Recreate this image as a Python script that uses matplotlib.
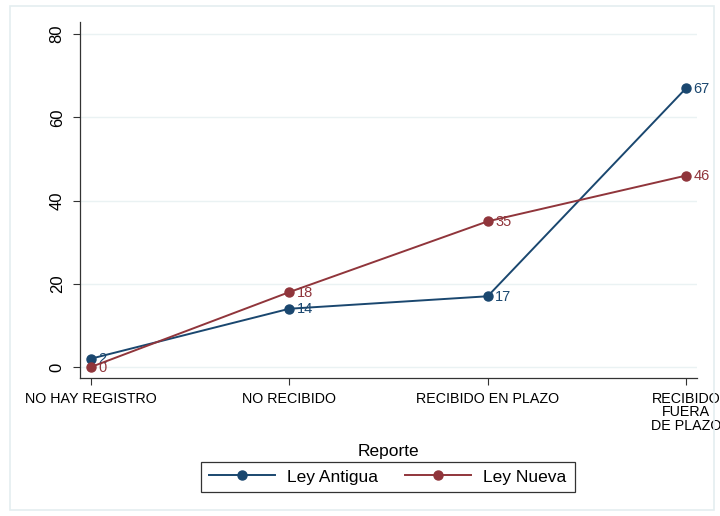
import numpy as np
import matplotlib
matplotlib.use("Agg")
import matplotlib.pyplot as plt
from matplotlib.patches import Rectangle

categories = ["NO HAY REGISTRO", "NO RECIBIDO", "RECIBIDO EN PLAZO",
              "RECIBIDO\nFUERA\nDE PLAZO"]
ley_antigua = [2, 14, 17, 67]
ley_nueva = [0, 18, 35, 46]
yticks = [0, 20, 40, 60, 80]

blue = "#1a476f"
red = "#90353b"
grid = "#eaf2f3"

plt.rcParams["font.family"] = ["Liberation Sans", "DejaVu Sans"]

fig = plt.figure(figsize=(7.2, 5.16), dpi=100)
fig.patches.append(Rectangle((10 / 720, 6 / 516), 704 / 720, 504 / 516,
                             transform=fig.transFigure, fill=False,
                             edgecolor="#e4eef0", lw=1.2))

ax = fig.add_axes([80 / 720, 138 / 516, 617 / 720, 356 / 516])
x = np.arange(len(categories))

for vals, col, name in [(ley_antigua, blue, "Ley Antigua"),
                        (ley_nueva, red, "Ley Nueva")]:
    ax.plot(x, vals, color=col, lw=1.4, marker="o", ms=6.5, label=name,
            zorder=3)
    for xi, v in zip(x, vals):
        ax.annotate(str(v), (xi, v), xytext=(5.5, -0.5),
                    textcoords="offset points",
                    color=col, fontsize=10.5, va="center", ha="left")

ax.set_xlim(-0.055, 3.055)
ax.set_ylim(-2.64, 82.9)
ax.set_yticks(yticks)
ax.set_yticklabels([str(t) for t in yticks], rotation=90, va="center",
                   fontsize=12)
ax.set_xticks(x)
ax.set_xticklabels(categories, fontsize=10.3, linespacing=0.95)
ax.tick_params(axis="both", length=5, width=0.8, color="#333333")
ax.tick_params(axis="y", pad=6)
ax.tick_params(axis="x", pad=5)
ax.grid(axis="y", color=grid, lw=1)
ax.set_axisbelow(True)
for s in ["top", "right"]:
    ax.spines[s].set_visible(False)
for s in ["left", "bottom"]:
    ax.spines[s].set_linewidth(0.9)
    ax.spines[s].set_color("#333333")

ax.set_xlabel("Reporte", fontsize=12.5, labelpad=8)

leg = fig.legend(loc="center", bbox_to_anchor=(388 / 720, 1 - 477 / 516),
                 ncol=2, fontsize=12.5, frameon=True, fancybox=False,
                 edgecolor="black", handlelength=3.8, handletextpad=0.7,
                 columnspacing=1.55, borderpad=0.45)
leg.get_frame().set_linewidth(0.9)

fig.savefig("out.png", dpi=100, facecolor="white")
